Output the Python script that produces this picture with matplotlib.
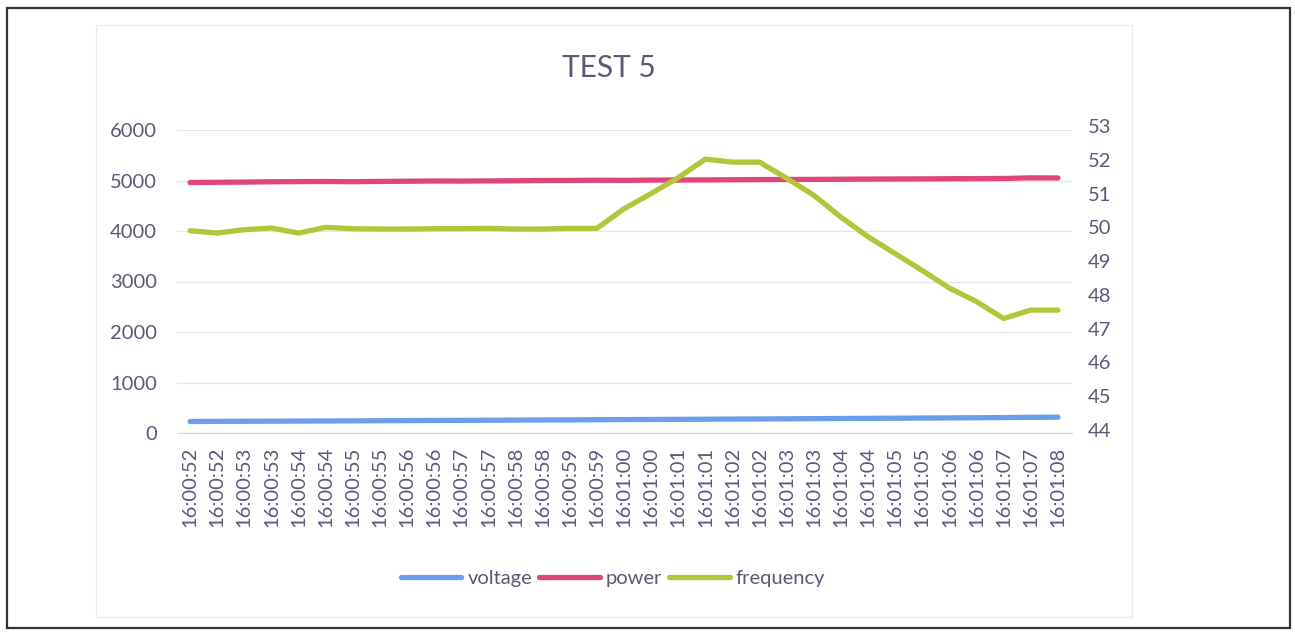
import numpy as np
import matplotlib
matplotlib.use("Agg")
import matplotlib.pyplot as plt
from matplotlib.patches import Rectangle

# --------------------------------
# data
# --------------------------------
times = [
    "16:00:52", "16:00:52", "16:00:53", "16:00:53", "16:00:54", "16:00:54",
    "16:00:55", "16:00:55", "16:00:56", "16:00:56", "16:00:57", "16:00:57",
    "16:00:58", "16:00:58", "16:00:59", "16:00:59", "16:01:00", "16:01:00",
    "16:01:01", "16:01:01", "16:01:02", "16:01:02", "16:01:03", "16:01:03",
    "16:01:04", "16:01:04", "16:01:05", "16:01:05", "16:01:06", "16:01:06",
    "16:01:07", "16:01:07", "16:01:08",
]

voltage = [228, 230, 232, 234, 236, 238, 240, 243, 246, 248, 250, 253, 256,
           258, 260, 263, 266, 268, 270, 273, 276, 278, 281, 284, 287, 290,
           293, 296, 299, 302, 306, 310, 314]

power = [4960, 4965, 4968, 4975, 4978, 4980, 4976, 4982, 4985, 4990, 4988,
         4992, 4995, 5000, 5002, 5005, 5003, 5008, 5010, 5012, 5015, 5018,
         5020, 5022, 5025, 5028, 5030, 5032, 5035, 5038, 5040, 5052, 5050]

frequency = [49.90, 49.83, 49.93, 49.98, 49.83, 50.00, 49.96, 49.95, 49.95,
             49.96, 49.96, 49.97, 49.95, 49.95, 49.97, 49.97, 50.55, 51.00,
             51.47, 52.02, 51.93, 51.93, 51.45, 50.95, 50.30, 49.72, 49.22,
             48.72, 48.20, 47.80, 47.30, 47.55, 47.55]

TEXT = "#5a5a78"
C_VOLT = "#6a9ee8"
C_POW = "#e0457b"
C_FREQ = "#b3c63a"

plt.rcParams["font.family"] = ["Lato", "DejaVu Sans"]

fig = plt.figure(figsize=(12.95, 6.32), dpi=100)

# outer frame and faint chart area
fig.patches.append(Rectangle((7 / 1295, 1 - 628 / 632), 1283 / 1295, 620 / 632,
                             transform=fig.transFigure, fill=False,
                             edgecolor="#333333", linewidth=1.6))
fig.patches.append(Rectangle((96 / 1295, 1 - 617 / 632), 1036 / 1295, 592 / 632,
                             transform=fig.transFigure, fill=False,
                             edgecolor="#ececec", linewidth=1.0))

ax = fig.add_axes([176.5 / 1295, 1 - 433 / 632, 895 / 1295, 303 / 632])
# secondary scale sits a few pixels higher than the primary one
ax2 = fig.add_axes([176.5 / 1295, 1 - 430 / 632, 895 / 1295, 304 / 632], sharex=ax)
ax2.patch.set_visible(False)
ax2.yaxis.tick_right()
ax2.xaxis.set_visible(False)

x = np.arange(len(times))
l1, = ax.plot(x, voltage, color=C_VOLT, lw=3.8, solid_capstyle="round", label="voltage")
l2, = ax.plot(x, power, color=C_POW, lw=3.8, solid_capstyle="round", label="power")
l3, = ax2.plot(x, frequency, color=C_FREQ, lw=3.8, solid_capstyle="round", label="frequency")

ax.set_xlim(-0.5, len(times) - 0.5)
ax.set_ylim(0, 6000)
ax.set_yticks(range(0, 6001, 1000))
ax2.set_ylim(44, 53)
ax2.set_yticks(range(44, 54))

ax.set_xticks(x)
ax.set_xticklabels(times, rotation=90)

ax.grid(axis="y", color="#e6e6e6", linewidth=1.0)
ax.set_axisbelow(True)

for a in (ax, ax2):
    for s in a.spines.values():
        s.set_visible(False)
    a.tick_params(length=0, colors=TEXT, labelsize=14.5)
ax.spines["bottom"].set_visible(True)
ax.spines["bottom"].set_color("#d9d9d9")
ax.tick_params(axis="y", pad=14)
ax.tick_params(axis="x", pad=10)
ax2.tick_params(axis="y", pad=12)

fig.text(609 / 1295, 1 - 68 / 632, "TEST 5", ha="center", va="center",
         fontsize=21.5, color=TEXT)

fig.legend([l1, l2, l3], ["voltage", "power", "frequency"], loc="center",
           bbox_to_anchor=(613 / 1295, 1 - 578 / 632), ncol=3, frameon=False,
           fontsize=14.5, labelcolor=TEXT, handlelength=3.0,
           handletextpad=0.3, columnspacing=0.35)

fig.savefig("out.png", dpi=100)
